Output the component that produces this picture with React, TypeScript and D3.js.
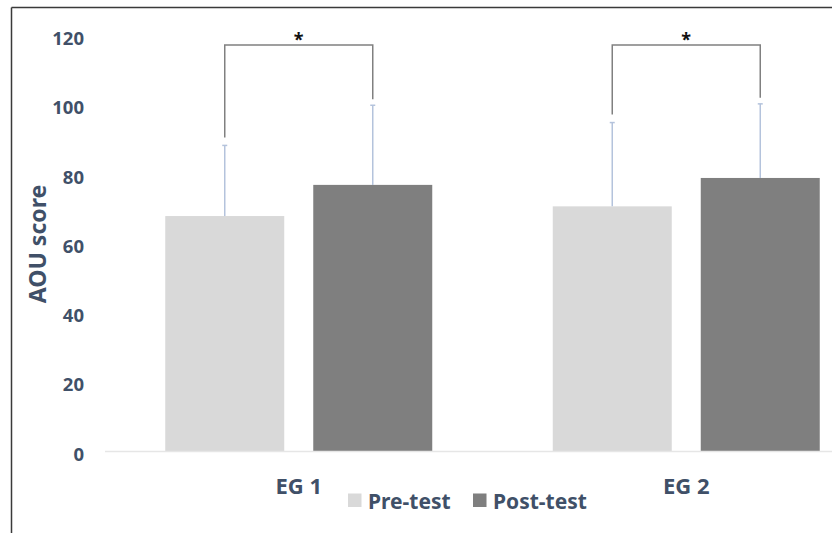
import React from "react";
import * as d3 from "d3";

const groups = ["EG 1", "EG 2"];
const series = ["Pre-test", "Post-test"];
const preMeans = [68, 70.8];
const preSD = [20.4, 24.2];
const postMeans = [77, 79];
const postSD = [23, 21.4];
const yTicks = [0, 20, 40, 60, 80, 100, 120];
const bracketLevel = 117.4;

const width = 832;
const height = 533;
const textColor = "#405068";
const colors = ["#d9d9d9", "#7f7f7f"];
const font = "'Noto Sans', sans-serif";

const App: React.FC = () => {
  const y = d3.scaleLinear().domain([0, 120]).range([451.5, 36]);
  // plot extends past the right edge of the picture (cropped)
  const x0 = d3.scaleBand<string>().domain(groups).range([105, 880]);
  const groupWidth = 267;
  const x1 = d3
    .scaleBand<string>()
    .domain(series)
    .range([0, groupWidth])
    .paddingInner(0.196);

  const rows = groups.map((g, i) => ({
    group: g,
    values: [
      { key: series[0], mean: preMeans[i], sd: preSD[i] },
      { key: series[1], mean: postMeans[i], sd: postSD[i] },
    ],
  }));

  const groupLeft = (g: string) => x0(g)! + (x0.bandwidth() - groupWidth) / 2;
  const barCenter = (g: string, s: string) => groupLeft(g) + x1(s)! + x1.bandwidth() / 2;

  return (
    <svg
      width={width}
      height={height}
      style={{ position: "absolute", left: 0, top: 0, background: "#fff" }}
      fontFamily={font}
    >
      {/* frame */}
      <line x1={11.5} x2={width} y1={7.5} y2={7.5} stroke="#3a3a3a" strokeWidth={1.5} />
      <line x1={11.5} x2={11.5} y1={7.5} y2={height} stroke="#3a3a3a" strokeWidth={1.5} />

      {/* y tick labels */}
      {yTicks.map((t) => (
        <text
          key={t}
          x={84}
          y={y(t) + 1.5}
          textAnchor="end"
          dominantBaseline="central"
          fontSize={18.5}
          fontWeight="bold"
          fill={textColor}
        >
          {t}
        </text>
      ))}

      <text
        transform={`translate(37,244) rotate(-90)`}
        textAnchor="middle"
        dominantBaseline="central"
        fontSize={23}
        fontWeight="bold"
        fill={textColor}
      >
        AOU score
      </text>

      {/* bars */}
      {rows.map((r) =>
        r.values.map((v, j) => (
          <rect
            key={r.group + v.key}
            x={groupLeft(r.group) + x1(v.key)!}
            y={y(v.mean)}
            width={x1.bandwidth()}
            height={y(0) - y(v.mean)}
            fill={colors[j]}
          />
        ))
      )}

      {/* axis line */}
      <line x1={105} x2={width} y1={y(0)} y2={y(0)} stroke="#e6e6e6" strokeWidth={1.5} />

      {/* error bars */}
      {rows.map((r) =>
        r.values.map((v) => {
          const cx = barCenter(r.group, v.key);
          return (
            <g key={"e" + r.group + v.key} stroke="#b4c3dc" strokeWidth={1.5}>
              <line x1={cx} x2={cx} y1={y(v.mean)} y2={y(v.mean + v.sd)} />
              <line x1={cx - 2.5} x2={cx + 2.5} y1={y(v.mean + v.sd)} y2={y(v.mean + v.sd)} />
            </g>
          );
        })
      )}

      {/* significance brackets */}
      {rows.map((r) => {
        const a = r.values[0];
        const b = r.values[1];
        const xa = barCenter(r.group, a.key);
        const xb = barCenter(r.group, b.key);
        const yt = y(bracketLevel);
        const path = `M${xa},${y(a.mean + a.sd) - 8}V${yt}H${xb}V${y(b.mean + b.sd) - 6}`;
        return (
          <g key={"b" + r.group}>
            <path d={path} fill="none" stroke="#808080" strokeWidth={1.5} />
            <text
              x={(xa + xb) / 2}
              y={yt + 1}
              textAnchor="middle"
              fontSize={18}
              fontWeight="bold"
              fill="#111"
            >
              *
            </text>
          </g>
        );
      })}

      {/* category labels */}
      {groups.map((g) => (
        <text
          key={g}
          x={x0(g)! + x0.bandwidth() / 2}
          y={485}
          textAnchor="middle"
          dominantBaseline="central"
          fontSize={22}
          fontWeight="bold"
          fill={textColor}
        >
          {g}
        </text>
      ))}

      {/* legend */}
      {series.map((s, i) => {
        const lx = [348, 473][i];
        return (
          <g key={s}>
            <rect x={lx} y={493.5} width={13.5} height={13.5} fill={colors[i]} />
            <text
              x={lx + 20}
              y={500.5}
              dominantBaseline="central"
              fontSize={21}
              fontWeight="bold"
              fill={textColor}
            >
              {s}
            </text>
          </g>
        );
      })}
    </svg>
  );
};

export default App;
